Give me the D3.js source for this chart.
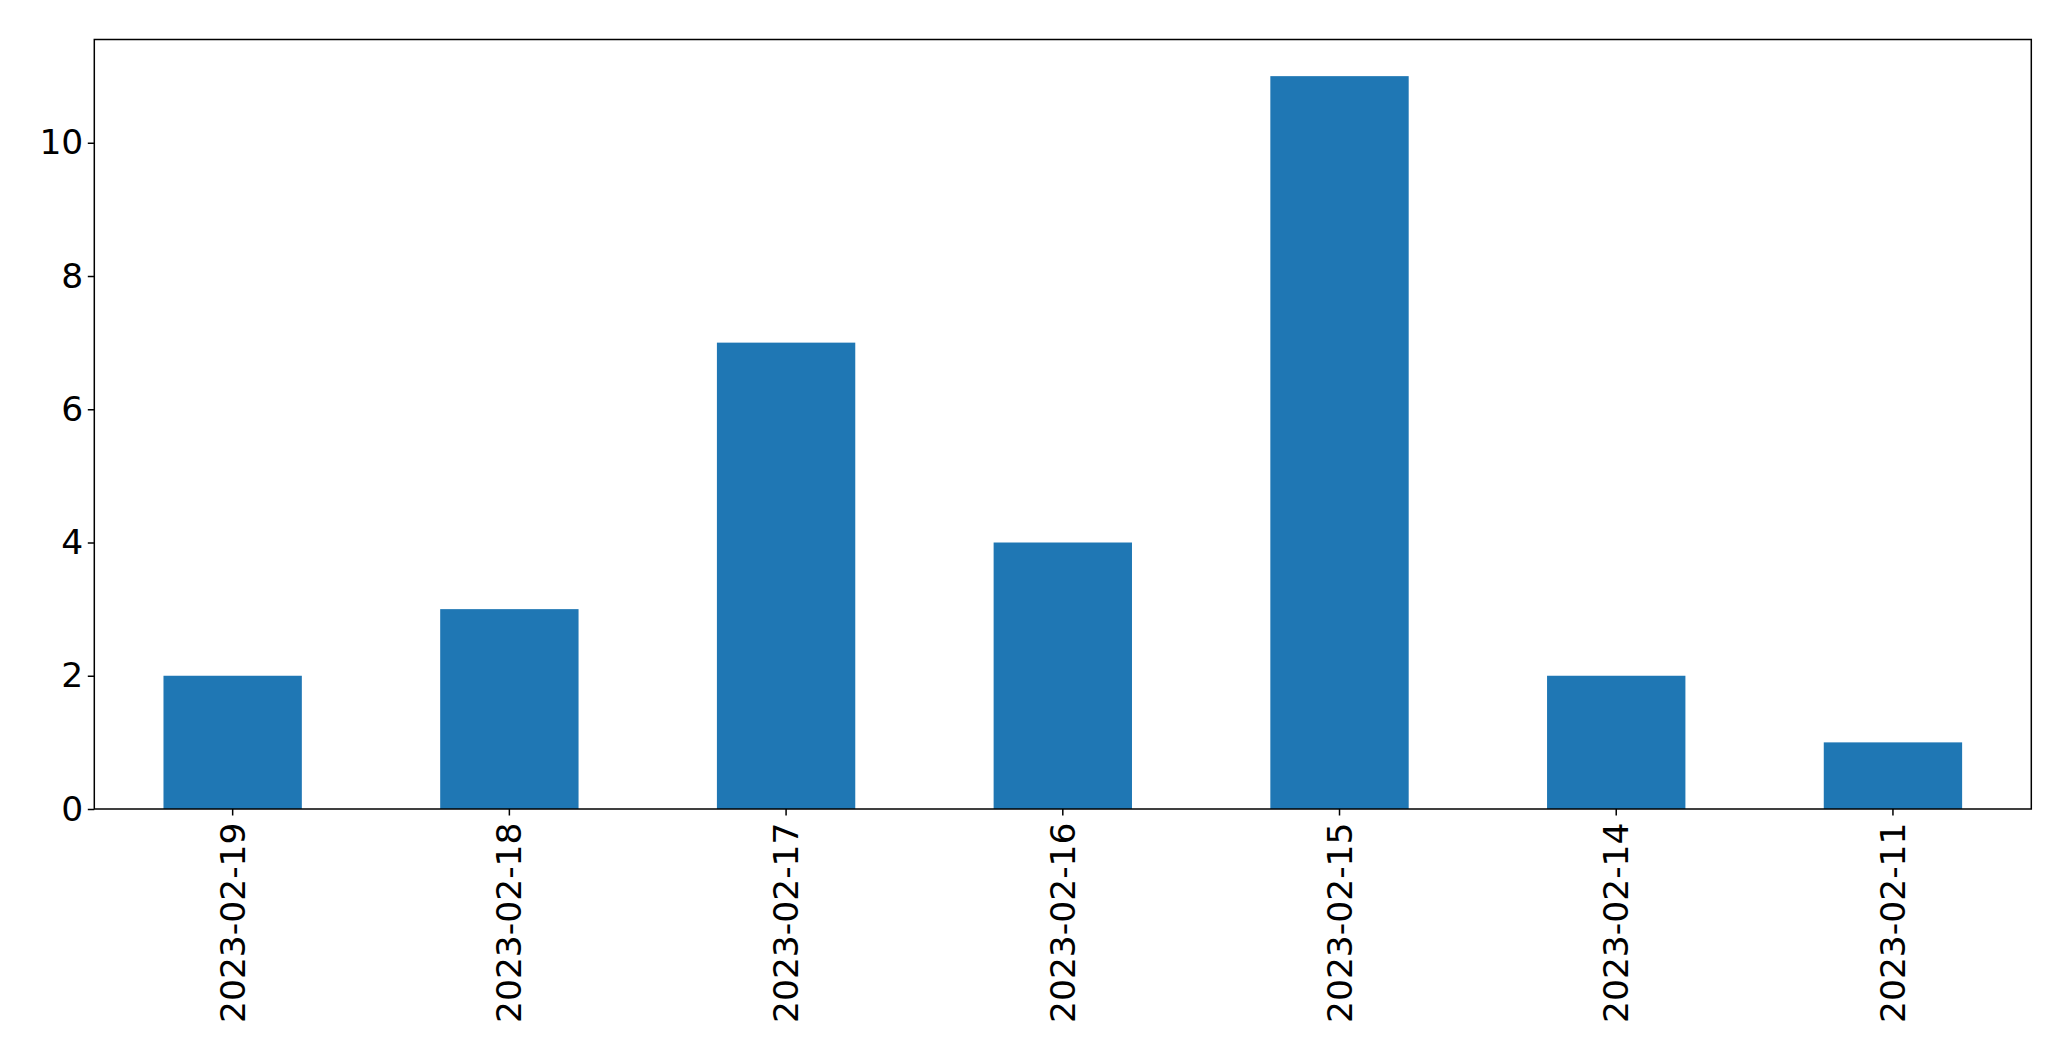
<!DOCTYPE html>
<html>
<head>
<meta charset="utf-8">
<script src="https://cdn.jsdelivr.net/npm/d3@7"></script>
<style>
  html, body { margin: 0; padding: 0; background: #fff; }
  svg { display: block; }
  text { font-family: "DejaVu Sans", sans-serif; fill: #000; }
</style>
</head>
<body>
<script>
const categories = ["2023-02-19", "2023-02-18", "2023-02-17", "2023-02-16", "2023-02-15", "2023-02-14", "2023-02-11"];
const values = [2, 3, 7, 4, 11, 2, 1];
const yTicks = [0, 2, 4, 6, 8, 10];

const W = 2071, H = 1061;
const margin = { left: 94.3, top: 39.5, right: W - 2031.3, bottom: H - 809 };
const iw = W - margin.left - margin.right;
const ih = H - margin.top - margin.bottom;

const svg = d3.select("body").append("svg").attr("width", W).attr("height", H);
const g = svg.append("g").attr("transform", `translate(${margin.left},${margin.top})`);

const x = d3.scaleBand().domain(categories).range([0, iw]).paddingInner(0.5).paddingOuter(0.25);
const y = d3.scaleLinear().domain([0, d3.max(values) * 1.05]).range([ih, 0]);

g.selectAll("rect.bar").data(values).enter().append("rect")
  .attr("class", "bar")
  .attr("x", (d, i) => x(categories[i]))
  .attr("width", x.bandwidth())
  .attr("y", d => y(d))
  .attr("height", d => y(0) - y(d))
  .attr("fill", "#1f77b4");

const fsY = 34.5, fsX = 34.5;
const yAxis = g.append("g").call(d3.axisLeft(y).tickValues(yTicks).tickSize(6.5).tickPadding(4.5).tickFormat(d3.format("d")));
yAxis.select(".domain").remove();
yAxis.selectAll("text").style("font-size", fsY + "px").attr("font-family", "DejaVu Sans");
yAxis.selectAll("line").attr("stroke", "#000").attr("stroke-width", 1.5);

const xAxis = g.append("g").attr("transform", `translate(0,${ih})`)
  .call(d3.axisBottom(x).tickSize(6.5).tickPadding(6.5));
xAxis.select(".domain").remove();
xAxis.selectAll("line").attr("stroke", "#000").attr("stroke-width", 1.5);
xAxis.selectAll("text")
  .style("font-size", fsX + "px")
  .attr("font-family", "DejaVu Sans")
  .attr("transform", "rotate(-90)")
  .attr("text-anchor", "end")
  .attr("dy", "0.35em")
  .attr("x", -13.5)
  .attr("y", 0);

g.append("rect").attr("x", 0).attr("y", 0).attr("width", iw).attr("height", ih)
  .attr("fill", "none").attr("stroke", "#000").attr("stroke-width", 1.5);
</script>
</body>
</html>
